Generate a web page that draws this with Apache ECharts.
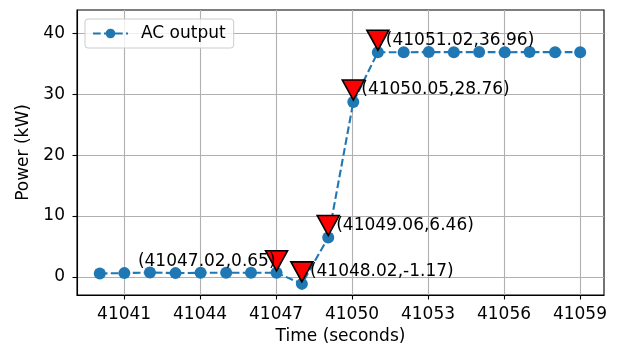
<!DOCTYPE html>
<html>
<head>
<meta charset="utf-8">
<script src="https://cdn.jsdelivr.net/npm/echarts@6/dist/echarts.min.js"></script>
<style>
html,body{margin:0;padding:0;background:#fff;}
#chart{width:617px;height:350px;}
</style>
</head>
<body>
<div id="chart"></div>
<script>
// Data
var timeSeconds = [41040.04, 41041.01, 41042.02, 41043.03, 41044.02, 41045.03, 41046.01, 41047.02, 41048.02, 41049.06, 41050.05, 41051.02, 41052.04, 41053.03, 41054.02, 41055.02, 41056.03, 41057.01, 41058.02, 41059.01];
var acPower = [0.55, 0.6, 0.7, 0.6, 0.65, 0.65, 0.65, 0.65, -1.17, 6.46, 28.76, 36.96, 36.95, 36.97, 36.96, 36.98, 36.95, 36.97, 36.96, 36.96];
var markedIdx = [7, 8, 9, 10, 11];
var xTicks = [41041, 41044, 41047, 41050, 41053, 41056, 41059];
var yTicks = [0, 10, 20, 30, 40];
var seriesName = 'AC output';

var FONT = 'DejaVu Sans';
var FS = 17;

var lineData = timeSeconds.map(function (x, i) { return [x, acPower[i]]; });
var markData = markedIdx.map(function (i, k) {
  var d = {
    value: [timeSeconds[i], acPower[i]],
    label: { formatter: '(' + timeSeconds[i].toFixed(2) + ',' + acPower[i].toFixed(2) + ')' }
  };
  if (k === 0) {
    d.label.align = 'right';
    d.label.offset = [-1, 1];
  }
  return d;
});

var chart = echarts.init(document.getElementById('chart'), null, { renderer: 'canvas' });
chart.setOption({
  animation: false,
  backgroundColor: '#fff',
  grid: { left: 77, right: 13, top: 10, bottom: 53, show: true, borderColor: '#000', borderWidth: 1.1, backgroundColor: 'transparent' },
  legend: {
    data: [seriesName],
    left: 85, top: 19,
    padding: [6, 8, 6, 7],
    itemWidth: 35, itemHeight: 12,
    backgroundColor: 'rgba(255,255,255,0.8)',
    borderColor: '#cccccc', borderWidth: 1, borderRadius: 3,
    textStyle: { fontFamily: FONT, fontSize: FS, color: '#000', padding: [0, 0, 0, 8] }
  },
  xAxis: {
    type: 'value',
    min: 41039.14, max: 41059.95,
    name: 'Time (seconds)', nameLocation: 'middle', nameGap: 33,
    nameTextStyle: { fontFamily: FONT, fontSize: FS, color: '#000' },
    axisLine: { show: true, onZero: false, lineStyle: { color: '#000', width: 1.1 } },
    axisTick: { show: true, length: 4.5, customValues: xTicks, lineStyle: { color: '#000', width: 1.1 } },
    axisLabel: { customValues: xTicks, formatter: function (v) { return String(Math.round(v)); }, fontFamily: FONT, fontSize: FS, color: '#000', margin: 11 },
    splitLine: { show: true, lineStyle: { color: '#b0b0b0', width: 1.1 } }
  },
  yAxis: {
    type: 'value',
    min: -3.0, max: 43.9,
    name: 'Power (kW)', nameLocation: 'middle', nameGap: 39, nameRotate: 90,
    nameTextStyle: { fontFamily: FONT, fontSize: FS, color: '#000' },
    axisLine: { show: true, onZero: false, lineStyle: { color: '#000', width: 1.1 } },
    axisTick: { show: true, length: 4.5, customValues: yTicks, lineStyle: { color: '#000', width: 1.1 } },
    axisLabel: { customValues: yTicks, fontFamily: FONT, fontSize: FS, color: '#000', margin: 12 },
    splitLine: { show: true, lineStyle: { color: '#b0b0b0', width: 1.1 } }
  },
  series: [
    {
      name: seriesName,
      type: 'line',
      data: lineData,
      symbol: 'circle', symbolSize: 12,
      showSymbol: true,
      itemStyle: { color: '#1f77b4', opacity: 1 },
      lineStyle: { color: '#1f77b4', width: 2.1, type: [7.7, 3.3] },
      z: 3
    },
    {
      name: 'markers',
      type: 'scatter',
      data: markData,
      symbol: 'triangle', symbolRotate: 180, symbolSize: [22, 20], symbolOffset: [0, -12],
      itemStyle: { color: '#ff0000', borderColor: '#000', borderWidth: 1.6, opacity: 1 },
      label: {
        show: true, position: 'inside', align: 'left', verticalAlign: 'middle', offset: [8, 0],
        fontFamily: FONT, fontSize: FS, color: '#000', opacity: 1
      },
      z: 5
    }
  ]
});
</script>
</body>
</html>
